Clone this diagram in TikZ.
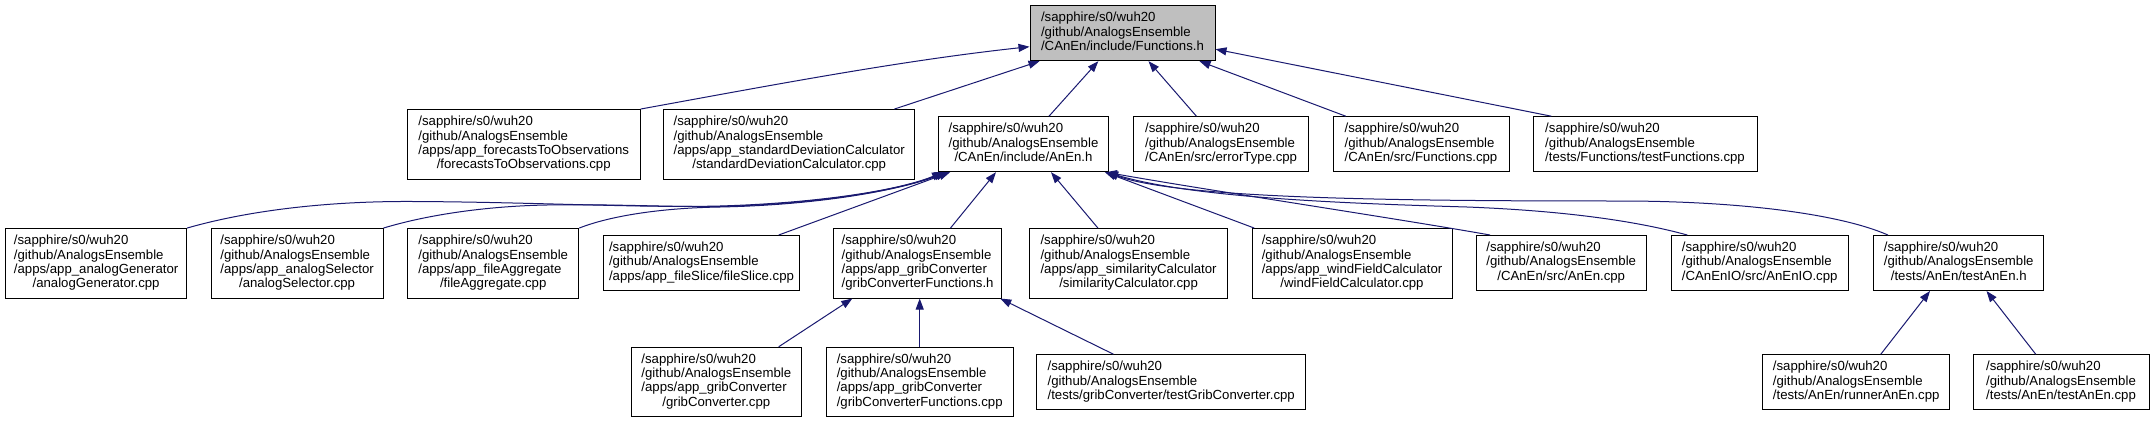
\documentclass[tikz,border=0pt]{standalone}
\usepackage{fontspec}
\setmainfont{Liberation Sans}
\usetikzlibrary{arrows.meta}
\definecolor{edgecol}{HTML}{191970}
\definecolor{rootfill}{HTML}{BFBFBF}
\newcommand\labthree[1]{\begin{tabular}{@{}l@{}}/sapphire/s0/wuh20\\/github/AnalogsEnsemble\\\multicolumn{1}{@{}c@{}}{#1}\end{tabular}}
\newcommand\labfour[2]{\begin{tabular}{@{}l@{}}/sapphire/s0/wuh20\\/github/AnalogsEnsemble\\#1\\\multicolumn{1}{@{}c@{}}{#2}\end{tabular}}
\begin{document}
\begin{tikzpicture}[x=1pt,y=-1pt,
  box/.style={draw=black, line width=1pt, fill=white, inner sep=0pt, anchor=center,
    font=\fontsize{13.2}{14.2}\selectfont},
  bthree/.style={box, minimum height=55pt},
  bfour/.style={box, minimum height=69.5pt},
  rootbox/.style={bthree, fill=rootfill},
  edge/.style={draw=edgecol, line width=1pt, -{Triangle[length=11pt,width=8pt]}}]
\useasboundingbox (0,0) rectangle (2154,423);
\fill[white] (0,0) rectangle (2154,423);
% row 0
\node[rootbox, minimum width=185pt] (fn) at (1122.5,33.2) {\labthree{/CAnEn/include/Functions.h}};
% row 1
\node[bfour, minimum width=232.7pt] (bfo) at (523.7,144.3) {\labfour{/apps/app\_forecastsToObservations}{/forecastsToObservations.cpp}};
\node[bfour, minimum width=251.2pt] (bsd) at (789.2,144.3) {\labfour{/apps/app\_standardDeviationCalculator}{/standardDeviationCalculator.cpp}};
\node[bthree, minimum width=169.8pt] (anen) at (1023.5,144.2) {\labthree{/CAnEn/include/AnEn.h}};
\node[bthree, minimum width=174.6pt] (err) at (1221.1,144.2) {\labthree{/CAnEn/src/errorType.cpp}};
\node[bthree, minimum width=176pt] (fcpp) at (1421,144.2) {\labthree{/CAnEn/src/Functions.cpp}};
\node[bthree, minimum width=224pt] (tfn) at (1645,144.2) {\labthree{/tests/Functions/testFunctions.cpp}};
% row 2
\node[bfour, minimum width=181pt] (ag) at (96.1,263.3) {\labfour{/apps/app\_analogGenerator}{/analogGenerator.cpp}};
\node[bfour, minimum width=171.8pt] (as) at (297.1,263.3) {\labfour{/apps/app\_analogSelector}{/analogSelector.cpp}};
\node[bfour, minimum width=171.1pt] (fa) at (493.2,263.3) {\labfour{/apps/app\_fileAggregate}{/fileAggregate.cpp}};
\node[bthree, minimum width=196.4pt] (fs) at (701.5,263) {\labthree{/apps/app\_fileSlice/fileSlice.cpp}};
\node[bfour, minimum width=168.4pt] (gcf) at (917.6,263.3) {\labfour{/apps/app\_gribConverter}{/gribConverterFunctions.h}};
\node[bfour, minimum width=197.6pt] (sc) at (1128.6,263.3) {\labfour{/apps/app\_similarityCalculator}{/similarityCalculator.cpp}};
\node[bfour, minimum width=200pt] (wf) at (1352,263.3) {\labfour{/apps/app\_windFieldCalculator}{/windFieldCalculator.cpp}};
\node[bthree, minimum width=170.4pt] (acpp) at (1561.2,263) {\labthree{/CAnEn/src/AnEn.cpp}};
\node[bthree, minimum width=177.4pt] (aio) at (1759.7,263) {\labthree{/CAnEnIO/src/AnEnIO.cpp}};
\node[bthree, minimum width=169.7pt] (tah) at (1958.7,263) {\labthree{/tests/AnEn/testAnEn.h}};
% row 3
\node[bfour, minimum width=169.7pt] (gc) at (716.3,382) {\labfour{/apps/app\_gribConverter}{/gribConverter.cpp}};
\node[bfour, minimum width=186.6pt] (gcfc) at (919.7,382) {\labfour{/apps/app\_gribConverter}{/gribConverterFunctions.cpp}};
\node[bthree, minimum width=268.8pt] (tgc) at (1171.2,382.2) {\labthree{/tests/gribConverter/testGribConverter.cpp}};
\node[bthree, minimum width=187.3pt] (ra) at (1856.2,382.2) {\labthree{/tests/AnEn/runnerAnEn.cpp}};
\node[bthree, minimum width=176pt] (ta) at (2061,382.2) {\labthree{/tests/AnEn/testAnEn.cpp}};
% edges to Functions.h
\draw[edge] (bfo.north east) .. controls (770,85.5) and (900,60.7) .. ([yshift=-13.5pt]fn.west);
\draw[edge] ([xshift=105.2pt]bsd.north) -- ([xshift=10pt]fn.south west);
\draw[edge] ([xshift=25.5pt]anen.north) -- ([xshift=-24.2pt]fn.south);
\draw[edge] ([xshift=-24.7pt]err.north) -- ([xshift=26pt]fn.south);
\draw[edge] ([xshift=-75.3pt]fcpp.north) -- ([xshift=77pt]fn.south);
\draw[edge] ([xshift=-93.7pt]tfn.north) -- ([yshift=-16pt]fn.east);
% edges to AnEn.h
\draw[edge] (ag.north east) .. controls (250,210) and (330,201) .. (413,201.5) .. controls (530,202) and (640,208) .. (720,206) .. controls (820,203) and (900,190) .. ([xshift=5pt]anen.south west);
\draw[edge] (as.north east) .. controls (430,214) and (490,206) .. (547,205) .. controls (620,204) and (660,207) .. (720,206.5) .. controls (820,204) and (900,190) .. ([xshift=7pt]anen.south west);
\draw[edge] (fa.north east) .. controls (610,216) and (660,208) .. (720,207) .. controls (820,205) and (900,190) .. ([xshift=9pt]anen.south west);
\draw[edge] ([xshift=77.2pt]fs.north) -- ([xshift=12pt]anen.south west);
\draw[edge] ([xshift=32.9pt]gcf.north) -- ([xshift=-27.5pt]anen.south);
\draw[edge] ([xshift=-30.7pt]sc.north) -- ([xshift=27.5pt]anen.south);
\draw[edge] ([xshift=-97.8pt]wf.north) -- ([xshift=-4pt]anen.south east);
\draw[edge] ([xshift=-71.2pt]acpp.north) .. controls (1400,219) and (1200,189) .. ([xshift=-3pt]anen.south east);
\draw[edge] ([xshift=-72.5pt]aio.north) .. controls (1640,222) and (1570,211) .. (1467,207) .. controls (1330,203) and (1190,197) .. ([xshift=-2pt]anen.south east);
\draw[edge] ([xshift=-70.8pt]tah.north) .. controls (1840,214) and (1740,201) .. (1620,201) .. controls (1400,201) and (1180,199) .. ([xshift=-2pt]anen.south east);
% edges to gribConverterFunctions.h
\draw[edge] ([xshift=62.4pt]gc.north) -- ([xshift=-65.3pt]gcf.south);
\draw[edge] (gcfc.north) -- (gcfc.north |- gcf.south);
\draw[edge] ([xshift=-57.8pt]tgc.north) -- ([xshift=-2pt]gcf.south east);
% edges to testAnEn.h
\draw[edge] ([xshift=24.6pt]ra.north) -- ([xshift=-28.7pt]tah.south);
\draw[edge] ([xshift=-25.3pt]ta.north) -- ([xshift=27.8pt]tah.south);
\end{tikzpicture}
\end{document}
